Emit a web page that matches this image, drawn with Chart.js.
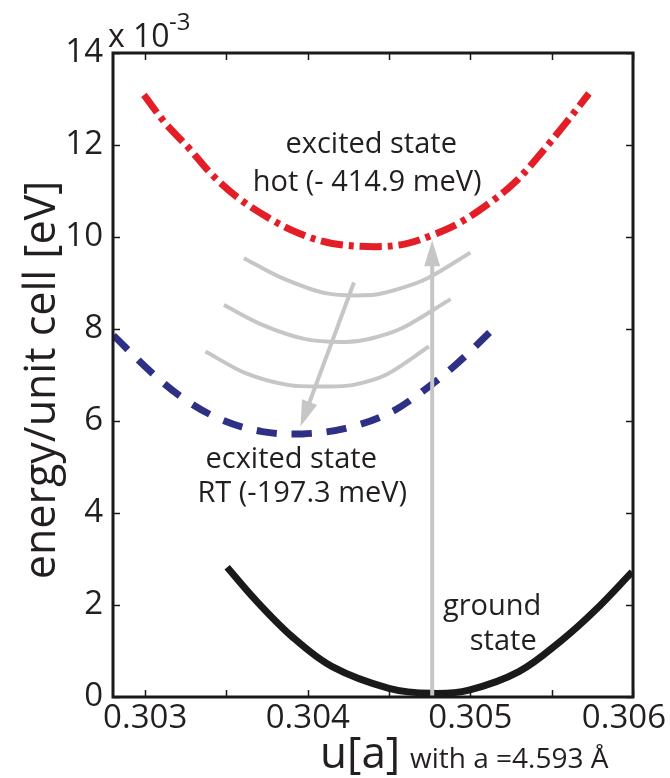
<!DOCTYPE html>
<html>
<head>
<meta charset="utf-8">
<script src="https://cdn.jsdelivr.net/npm/chart.js@4/dist/chart.umd.min.js"></script>
<style>
  html, body { margin: 0; padding: 0; background: #fff; }
</style>
</head>
<body>
<canvas id="chart" width="670" height="778"></canvas>
<script>
// values (x in units of a, y in 10^-3 eV)
const hotX = [0.302992, 0.303125, 0.303269, 0.303412, 0.303576, 0.303761, 0.303945, 0.304150, 0.304416, 0.304601, 0.304765, 0.304929, 0.305114, 0.305277, 0.305441, 0.305585, 0.305729];
const hotY = [13.09, 12.47, 11.93, 11.35, 10.84, 10.41, 10.08, 9.86, 9.79, 9.85, 10.04, 10.30, 10.73, 11.20, 11.85, 12.47, 13.12];

const rtX = [0.302805, 0.303043, 0.303248, 0.303474, 0.303720, 0.303966, 0.304232, 0.304499, 0.304704, 0.304909, 0.305154];
const rtY = [7.86, 7.04, 6.46, 6.02, 5.77, 5.72, 5.84, 6.17, 6.64, 7.22, 8.05];

const groundX = [0.303504, 0.303678, 0.303904, 0.304150, 0.304499, 0.304765, 0.304991, 0.305298, 0.305564, 0.305769, 0.305995];
const groundY = [2.82, 2.11, 1.31, 0.66, 0.19, 0.08, 0.15, 0.55, 1.24, 1.89, 2.72];

const relax1X = [0.303607, 0.303822, 0.304109, 0.304396, 0.304539, 0.304724, 0.305000];
const relax1Y = [9.54, 9.14, 8.78, 8.74, 8.85, 9.08, 9.66];
const relax2X = [0.303484, 0.303720, 0.303986, 0.304232, 0.304396, 0.304581, 0.304878];
const relax2Y = [8.52, 8.09, 7.78, 7.72, 7.80, 8.02, 8.65];
const relax3X = [0.303371, 0.303617, 0.303884, 0.304130, 0.304273, 0.304478, 0.304745];
const relax3Y = [7.51, 7.04, 6.78, 6.75, 6.78, 7.00, 7.62];

// arrows: [x0, y0, x1, y1] (tail -> head)
const exciteArrow = [0.304765, 0, 0.304765, 9.93];
const relaxArrow = [0.304284, 9.01, 0.303955, 5.88];

const xTicks = [0.303, 0.3035, 0.304, 0.3045, 0.305, 0.3055, 0.306];
const xTickLabels = ['0.303', '', '0.304', '', '0.305', '', '0.306'];
const yTicks = [0, 2, 4, 6, 8, 10, 12, 14];

const notes = [
  { text: 'excited state', x: 0.30439, y: 12.0 },
  { text: 'hot (- 414.9 meV)', x: 0.304365, y: 11.17 },
  { text: 'ecxited state', x: 0.303898, y: 5.15 },
  { text: 'RT (-197.3 meV)', x: 0.303966, y: 4.41 },
  { text: 'ground', x: 0.305134, y: 1.96 },
  { text: 'state', x: 0.305202, y: 1.20 }
];

const FONT = '"Open Sans", "DejaVu Sans", sans-serif';
const INK = '#231f20';
const GRAY = '#c6c6c6';

const pts = (xs, ys) => xs.map((x, i) => ({ x: x, y: ys[i] }));

const line = (xs, ys, color, width, extra) => Object.assign({
  data: pts(xs, ys), showLine: true, pointRadius: 0, borderColor: color,
  borderWidth: width, borderCapStyle: 'butt', borderJoinStyle: 'round', fill: false
}, extra);

function drawArrow(ctx, sx, sy, a) {
  const x0 = sx.getPixelForValue(a[0]), y0 = sy.getPixelForValue(a[1]);
  const x1 = sx.getPixelForValue(a[2]), y1 = sy.getPixelForValue(a[3]);
  const ang = Math.atan2(y1 - y0, x1 - x0);
  const headL = 26, headW = 8;
  const bx = x1 - headL * Math.cos(ang), by = y1 - headL * Math.sin(ang);
  ctx.strokeStyle = GRAY; ctx.fillStyle = GRAY; ctx.lineWidth = 4; ctx.lineCap = 'butt';
  ctx.beginPath(); ctx.moveTo(x0, y0); ctx.lineTo(bx + 2 * Math.cos(ang), by + 2 * Math.sin(ang)); ctx.stroke();
  ctx.beginPath();
  ctx.moveTo(x1, y1);
  ctx.lineTo(bx + headW * Math.sin(ang), by - headW * Math.cos(ang));
  ctx.lineTo(bx - headW * Math.sin(ang), by + headW * Math.cos(ang));
  ctx.closePath(); ctx.fill();
}

const framePlugin = {
  id: 'frame',
  beforeDatasetsDraw(chart) {
    const { ctx } = chart, sx = chart.scales.x, sy = chart.scales.y;
    ctx.save();
    ctx.fillStyle = INK;
    ctx.textAlign = 'center'; ctx.textBaseline = 'middle';
    ctx.font = '29px ' + FONT;
    notes.forEach(n => ctx.fillText(n.text, sx.getPixelForValue(n.x), sy.getPixelForValue(n.y)));
    ctx.restore();
  },
  afterDatasetsDraw(chart) {
    const { ctx, chartArea: a } = chart, sx = chart.scales.x, sy = chart.scales.y;
    ctx.save();
    drawArrow(ctx, sx, sy, exciteArrow);
    drawArrow(ctx, sx, sy, relaxArrow);

    // inward ticks
    ctx.strokeStyle = '#1a1a1a'; ctx.lineWidth = 1.5;
    ctx.beginPath();
    xTicks.forEach(v => {
      const px = Math.round(sx.getPixelForValue(v)) + 0.5;
      ctx.moveTo(px, a.bottom); ctx.lineTo(px, a.bottom - 7);
      ctx.moveTo(px, a.top); ctx.lineTo(px, a.top + 7);
    });
    yTicks.forEach(v => {
      const py = Math.round(sy.getPixelForValue(v)) + 0.5;
      ctx.moveTo(a.left, py); ctx.lineTo(a.left + 7, py);
      ctx.moveTo(a.right, py); ctx.lineTo(a.right - 7, py);
    });
    ctx.stroke();

    // box
    ctx.lineWidth = 3;
    ctx.strokeRect(a.left, a.top, a.right - a.left, a.bottom - a.top);

    // x tick labels (last one kept inside the canvas, as in the figure)
    ctx.fillStyle = INK;
    ctx.font = '33px ' + FONT;
    ctx.textAlign = 'left'; ctx.textBaseline = 'alphabetic';
    xTicks.forEach((v, i) => {
      const t = xTickLabels[i];
      if (!t) return;
      const w = ctx.measureText(t).width;
      const left = Math.min(sx.getPixelForValue(v) - w / 2, chart.width - 4 - w);
      ctx.fillText(t, left, 728);
    });

    // titles
    ctx.font = '32px ' + FONT;
    ctx.fillText('x 10', 108, 47);
    ctx.font = '24px ' + FONT;
    ctx.fillText('-3', 169, 30);

    ctx.font = '44px ' + FONT;
    ctx.fillText('u[a]', 320, 768);
    ctx.font = '28px ' + FONT;
    ctx.fillText('with a =4.593 Å', 410, 768);

    ctx.translate(55, 380);
    ctx.rotate(-Math.PI / 2);
    ctx.textAlign = 'center';
    ctx.font = '43px ' + FONT;
    ctx.fillText('energy/unit cell [eV]', 0, 0);
    ctx.restore();
  }
};

new Chart(document.getElementById('chart'), {
  type: 'scatter',
  data: {
    datasets: [
      line(groundX, groundY, '#1a1a1a', 7, { tension: 0.35 }),
      line(hotX, hotY, '#e31e26', 7, { tension: 0.35, borderDash: [22, 6, 5, 6] }),
      line(rtX, rtY, '#2e3085', 7, { tension: 0.35, borderDash: [20, 15] }),
      line(relax1X, relax1Y, GRAY, 4, { tension: 0.3 }),
      line(relax2X, relax2Y, GRAY, 4, { tension: 0.3 }),
      line(relax3X, relax3Y, GRAY, 4, { tension: 0.3 })
    ]
  },
  options: {
    responsive: false,
    animation: false,
    devicePixelRatio: 1,
    layout: { padding: { top: 53, right: 37, left: 0, bottom: 0 } },
    plugins: { legend: { display: false }, tooltip: { enabled: false } },
    scales: {
      x: {
        type: 'linear', min: 0.302802, max: 0.306,
        grid: { display: false, drawTicks: false },
        border: { display: false },
        afterBuildTicks: s => { s.ticks = xTicks.map(v => ({ value: v })); },
        afterFit: s => { s.height = 81; s.paddingLeft = 0; s.paddingRight = 0; },
        ticks: { display: false }
      },
      y: {
        min: 0, max: 14,
        grid: { display: false, drawTicks: false },
        border: { display: false },
        afterBuildTicks: s => { s.ticks = yTicks.map(v => ({ value: v })); },
        afterFit: s => { s.width = 113; s.paddingTop = 0; s.paddingBottom = 0; },
        ticks: {
          padding: 10, color: INK,
          font: { family: FONT, size: 33 },
          callback: v => String(v)
        }
      }
    }
  },
  plugins: [framePlugin]
});
</script>
</body>
</html>
